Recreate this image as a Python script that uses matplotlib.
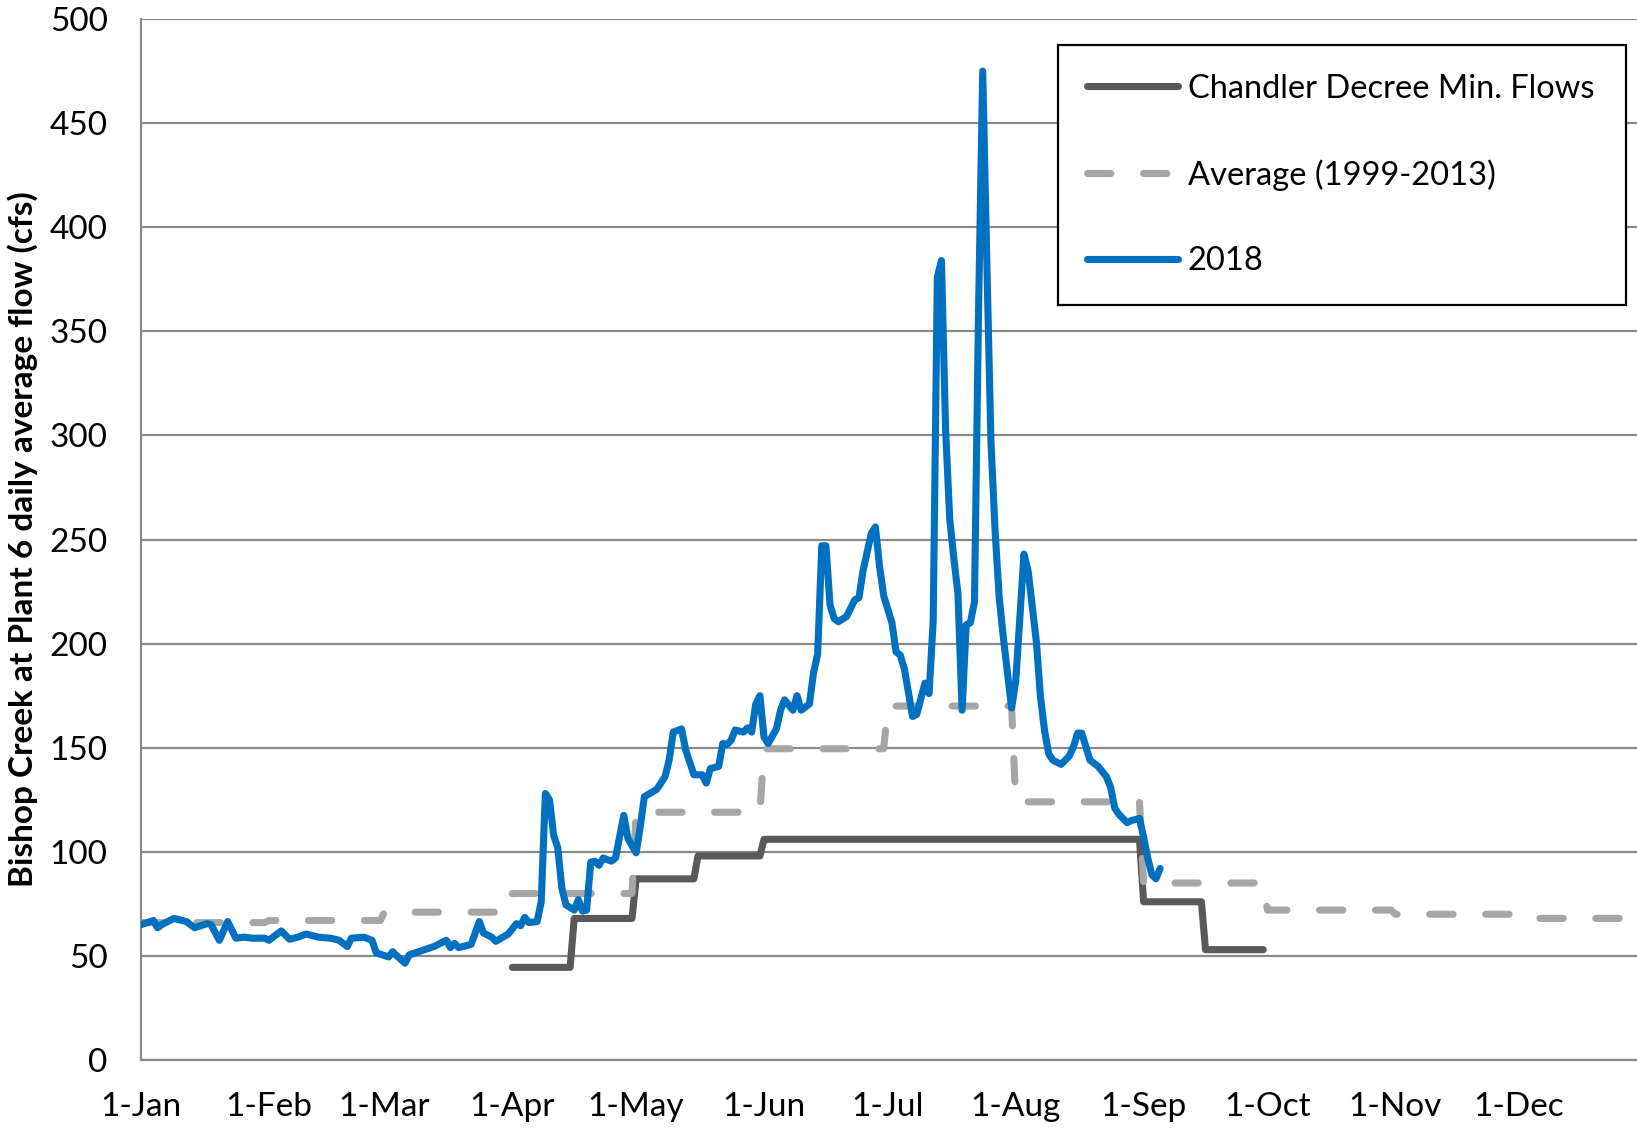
import matplotlib
matplotlib.use("Agg")
import matplotlib.pyplot as plt
from matplotlib.lines import Line2D

# ---------------- data ----------------
month_labels = ['1-Jan', '1-Feb', '1-Mar', '1-Apr', '1-May', '1-Jun',
                '1-Jul', '1-Aug', '1-Sep', '1-Oct', '1-Nov', '1-Dec']
month_start_days = [0, 31, 59, 90, 120, 151, 181, 212, 243, 273, 304, 334]
year_end_day = 364

# Chandler Decree minimum flows (period start day-of-year, value)
chandler_start_days = [90, 105, 120, 135, 151, 243, 258]
chandler_values = [44.5, 68, 87, 98, 106, 76, 53]
chandler_end_day = 272

# Average (1999-2013), monthly levels
average_values = [66, 67, 71, 80, 119, 149.5, 170, 124, 85, 72, 70, 68]

# 2018 daily average flow (day-of-year, cfs)
flow2018_days = [0, 3, 4, 5, 8, 11, 13, 16, 17, 19, 21, 23, 25, 27, 30, 31, 34, 36, 38,
                 40, 43, 46, 48, 50, 51, 54, 56, 57, 60, 61, 62, 64, 65, 68, 71, 74, 75,
                 76, 77, 80, 82, 83, 85, 86, 89, 91, 92, 93, 94, 96, 97, 98, 99, 100,
                 101, 102, 103, 105, 106, 107, 108, 109, 110, 111, 112, 114, 115, 117,
                 118, 120, 121, 122, 125, 127, 128, 129, 131, 132, 134, 136, 137, 138,
                 140, 141, 142, 143, 144, 146, 147, 148, 149, 150, 151, 152, 154, 155,
                 156, 158, 159, 160, 162, 163, 164, 165, 166, 167, 168, 169, 171, 172,
                 173, 174, 175, 177, 178, 179, 180, 182, 183, 184, 185, 187, 188, 190,
                 191, 192, 193, 194, 195, 196, 197, 198, 199, 200, 201, 202, 203, 204,
                 205, 206, 207, 208, 209, 211, 212, 214, 215, 217, 218, 219, 220, 221,
                 223, 225, 226, 227, 228, 229, 230, 232, 234, 235, 236, 237, 239, 240,
                 242, 243, 244, 245, 246, 247]
flow2018_values = [65, 67, 63.5, 65, 68, 66.5, 63.5, 65.5, 65, 57.5, 66.5, 58.5, 59,
                   58.5, 58.5, 57.5, 62, 58, 59, 60.5, 59, 58.5, 57.5, 54.5, 58.5, 59,
                   57.5, 51.5, 49.5, 52, 50, 46.5, 50.5, 52.5, 54.5, 57.5, 54, 56, 54,
                   55.5, 66.5, 61, 59, 57, 60.5, 65.5, 64.5, 68.5, 66, 66.5, 76, 128,
                   125, 108, 102, 82.5, 74.5, 72, 77, 71.5, 72, 95, 95.5, 93.5, 97,
                   95.5, 97, 117.5, 106.5, 99.5, 112, 126.5, 130, 136, 144, 157.5, 159,
                   149, 137, 137, 133, 140, 141, 152, 151.5, 153.5, 158.5, 157.5, 159.5,
                   157.5, 171, 175, 155, 152, 159, 168, 173, 168, 175, 168, 171, 186,
                   195, 247, 247, 218.5, 212, 210.5, 213, 217, 221, 222, 235, 253, 256,
                   237, 223, 210, 196, 194.5, 188, 165, 166, 181, 176, 211, 376, 384,
                   303, 260, 241, 224, 168, 209, 210, 220, 361, 475, 383, 297, 254, 222,
                   203, 169, 182, 243, 235, 201, 174.5, 158, 147, 144, 142, 146, 150.5,
                   157, 157, 150.5, 144, 141, 136, 131, 121, 118, 114, 115, 116, 107, 97,
                   89, 87, 92]

y_ticks = [0, 50, 100, 150, 200, 250, 300, 350, 400, 450, 500]

# ---------------- style ----------------
plt.rcParams['font.family'] = ['Lato', 'DejaVu Sans']
C_DARK = '#595959'
C_LIGHT = '#A6A6A6'
C_BLUE = '#0070C0'
C_GRID = '#898989'
LW = 5.1
DASH = (3.3, 4.6)

W, H = 1637, 1128
fig = plt.figure(figsize=(W / 100, H / 100), dpi=100)
left_px, right_px, top_px, bottom_px = 141, 1647, 19, 1060
ax = fig.add_axes([left_px / W, 1 - bottom_px / H,
                   (right_px - left_px) / W, (bottom_px - top_px) / H])


def step_series(starts, values, end):
    xs, ys = [], []
    ends = [s - 1 for s in starts[1:]] + [end]
    for s, e, v in zip(starts, ends, values):
        xs += [s, e]
        ys += [v, v]
    return xs, ys


cx, cy = step_series(chandler_start_days, chandler_values, chandler_end_day)
ax.plot(cx, cy, color=C_DARK, lw=LW, solid_capstyle='round',
        solid_joinstyle='round', zorder=3)

axx, axy = step_series(month_start_days, average_values, year_end_day)
ax.plot(axx, axy, color=C_LIGHT, lw=LW, dashes=DASH, dash_capstyle='round',
        zorder=4)

ax.plot(flow2018_days, flow2018_values, color=C_BLUE, lw=LW,
        solid_capstyle='round', solid_joinstyle='round', zorder=5)

ax.set_xlim(0, 365)
ax.set_ylim(0, 500)
ax.set_yticks(y_ticks)
ax.set_xticks(month_start_days)
ax.set_xticklabels(month_labels)
ax.yaxis.grid(True, color=C_GRID, lw=1.6, zorder=0)
ax.set_axisbelow(True)
for s in ['top', 'right']:
    ax.spines[s].set_visible(False)
for s in ['left', 'bottom']:
    ax.spines[s].set_color(C_GRID)
    ax.spines[s].set_linewidth(1.6)
ax.tick_params(axis='both', length=0, labelsize=24, colors='black')
ax.tick_params(axis='y', pad=24)
ax.tick_params(axis='x', pad=23)

fig.text(23 / W, 1 - 539.5 / H,
         'Bishop Creek at Plant 6 daily average flow (cfs)',
         rotation=90, ha='center', va='center', fontsize=24, fontweight='bold')

handles = [
    Line2D([], [], color=C_DARK, lw=LW, solid_capstyle='round'),
    Line2D([], [], color=C_LIGHT, lw=LW, dashes=DASH, dash_capstyle='round'),
    Line2D([], [], color=C_BLUE, lw=LW, solid_capstyle='round'),
]
labels = ['Chandler Decree Min. Flows', 'Average (1999-2013)', '2018']
axw = right_px - left_px
axh = bottom_px - top_px
lx0 = (1058 - left_px) / axw
lx1 = (1626 - left_px) / axw
ly1 = (bottom_px - 45) / axh
leg = ax.legend(handles, labels, loc='upper left',
                bbox_to_anchor=(lx0, ly1 - 0.3, lx1 - lx0, 0.3),
                mode='expand', borderaxespad=0, fontsize=23.5,
                handlelength=2.8, handletextpad=0.29, labelspacing=1.70,
                borderpad=0.88, fancybox=False, framealpha=1,
                edgecolor='black')
leg.get_frame().set_linewidth(1.6)
leg.set_zorder(10)

fig.savefig('out.png', dpi=100)
